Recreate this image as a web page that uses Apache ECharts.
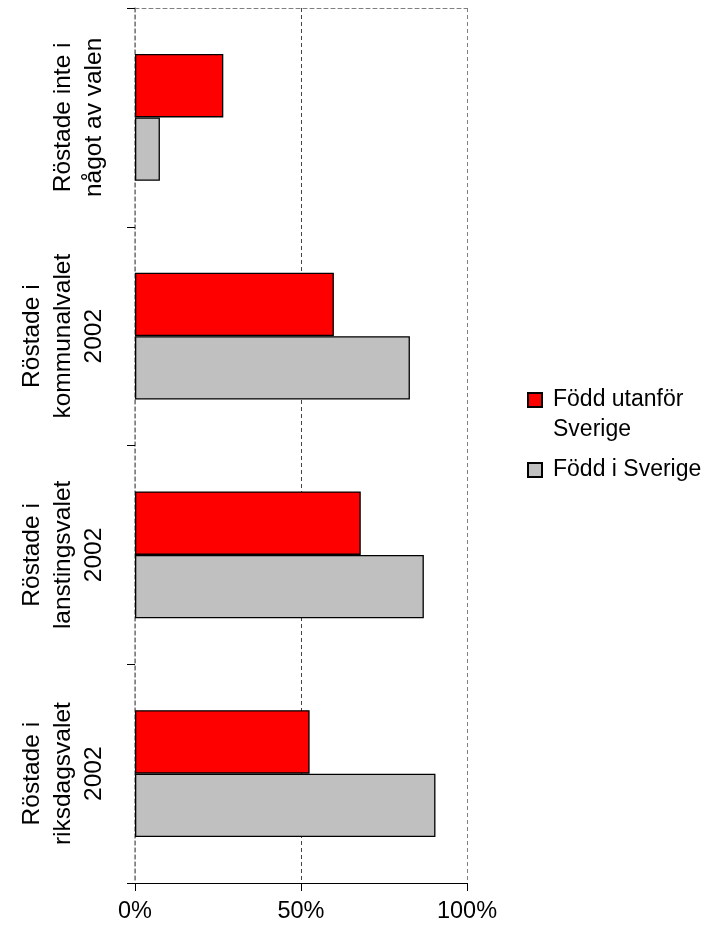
<!DOCTYPE html>
<html>
<head>
<meta charset="utf-8">
<script src="https://cdn.jsdelivr.net/npm/echarts@6/dist/echarts.min.js"></script>
<style>
  html, body { margin: 0; padding: 0; background: #fff; }
  #chart { width: 715px; height: 935px; }
</style>
</head>
<body>
<div id="chart"></div>
<script>
// Election participation, share of each group (%)
const categories = [
  'Röstade inte i\nnågot av valen',
  'Röstade i\nkommunalvalet\n2002',
  'Röstade i\nlanstingsvalet\n2002',
  'Röstade i\nriksdagsvalet\n2002'
];
const seriesNames = ['Född utanför Sverige', 'Född i Sverige'];
const bornAbroad = [26.6, 59.9, 68, 52.6];
const bornInSweden = [7.5, 82.8, 87, 90.5];
const xTicks = [0, 50, 100];

const FONT = '"Liberation Sans", Arial, sans-serif';

const chart = echarts.init(document.getElementById('chart'), null, { renderer: 'canvas' });

const barStyle = (color) => ({ color: color, borderColor: '#000', borderWidth: 1.3 });

chart.setOption({
  backgroundColor: '#fff',
  animation: false,
  grid: { left: 135, right: 248, top: 8, bottom: 52 },
  legend: {
    orient: 'vertical',
    left: 527,
    top: 355,
    padding: 0,
    itemWidth: 14,
    itemHeight: 14,
    itemGap: 10,
    icon: 'rect',
    data: seriesNames,
    formatter: (name) => name === seriesNames[0] ? ' \nFödd utanför\nSverige' : name,
    textStyle: { fontFamily: FONT, fontSize: 23, color: '#000', lineHeight: 30, padding: [0, 0, 0, 6] }
  },
  xAxis: [
    {
      type: 'value',
      min: xTicks[0],
      max: xTicks[xTicks.length - 1],
      interval: xTicks[1] - xTicks[0],
      position: 'bottom',
      axisLine: { show: true, lineStyle: { color: '#000', width: 1 } },
      axisTick: { show: true, length: 8, lineStyle: { color: '#000' } },
      axisLabel: { formatter: '{value}%', fontFamily: FONT, fontSize: 23.5, color: '#000', margin: 17 },
      splitLine: { show: true, lineStyle: { color: ['#808080', '#444', '#808080'], type: [4, 3], width: 1 } }
    },
    {
      // dashed frame along the top edge
      type: 'value',
      min: xTicks[0],
      max: xTicks[xTicks.length - 1],
      position: 'top',
      axisLine: { show: true, lineStyle: { color: '#808080', type: [4, 3], width: 1 } },
      axisTick: { show: false },
      axisLabel: { show: false },
      splitLine: { show: false }
    }
  ],
  yAxis: {
    type: 'category',
    inverse: true,
    data: categories,
    axisLine: { show: true, lineStyle: { color: '#808080', type: [4, 3], width: 1.5 } },
    axisTick: { show: true, length: 8, lineStyle: { color: '#000' } },
    axisLabel: {
      rotate: 90,
      fontFamily: FONT,
      fontSize: 24.5,
      lineHeight: 31,
      color: '#000',
      margin: 25,
      align: 'center'
    },
    splitLine: { show: false }
  },
  series: [
    {
      name: seriesNames[0],
      type: 'bar',
      data: bornAbroad,
      barGap: '0%',
      barCategoryGap: '42%',
      itemStyle: barStyle('#FF0000')
    },
    {
      name: seriesNames[1],
      type: 'bar',
      data: bornInSweden,
      barGap: '0%',
      barCategoryGap: '42%',
      itemStyle: barStyle('#C0C0C0')
    }
  ]
});
</script>
</body>
</html>
